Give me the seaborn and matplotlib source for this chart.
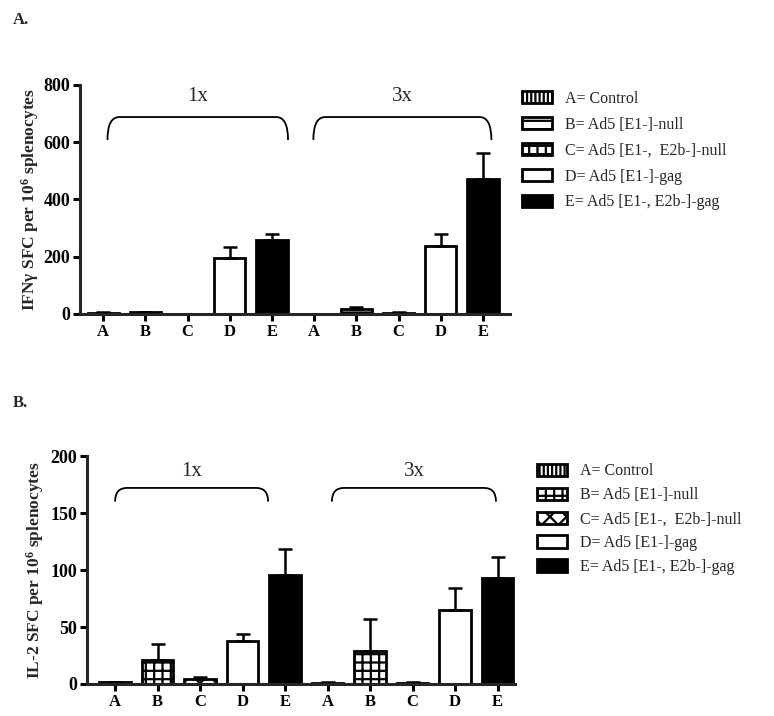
import numpy as np
import pandas as pd
import matplotlib
matplotlib.use("Agg")
import matplotlib.pyplot as plt
from matplotlib.path import Path
from matplotlib.patches import PathPatch, Patch
import seaborn as sns

# ---------------- data ----------------
letters = ["A", "B", "C", "D", "E"]
doses = ["1x", "3x"]
legend_labels_top = ["A= Control", "B= Ad5 [E1-]-null", "C= Ad5 [E1-,  E2b-]-null",
                     "D= Ad5 [E1-]-gag", "E= Ad5 [E1-, E2b-]-gag"]
legend_labels_bot = ["A= Control", "B= Ad5 [E1-]-null", "C= Ad5 [E1-,  E2b-]-null",
                     "D= Ad5 [E1-]-gag", "E= Ad5 [E1-, E2b-]-gag"]

ifng_mean = [5, 6, 0, 195, 257, 0, 18, 3, 238, 470]
ifng_upper = [6, 8, 0, 234, 278, 0, 25, 6, 278, 563]
il2_mean = [1.5, 21, 4, 38, 96, 1, 29, 1, 65, 93]
il2_upper = [2, 35, 6.5, 44, 118, 1.5, 57, 1.5, 84, 111]

ifng_ylabel = "IFN\u03b3 SFC per 10$^{6}$ splenocytes"
il2_ylabel = "IL-2 SFC per 10$^{6}$ splenocytes"

sns.set_theme(style="ticks")
plt.rcParams["font.family"] = ["Liberation Serif", "DejaVu Serif"]
plt.rcParams["mathtext.fontset"] = "custom"
plt.rcParams["mathtext.rm"] = "Liberation Serif"
plt.rcParams["mathtext.bf"] = "Liberation Serif:bold"
plt.rcParams["mathtext.default"] = "bf"
plt.rcParams["hatch.linewidth"] = 1.6

fig = plt.figure(figsize=(7.74, 7.16), dpi=100)

face = {"A": "white", "B": "white", "C": "white", "D": "white", "E": "black"}
hatch_top = {"A": "||||", "B": "--", "C": "++", "D": "", "E": ""}
hatch_bot = {"A": "||||", "B": "++", "C": "xx", "D": "", "E": ""}


def panel(rect, mean, upper, ymax, yticks, ylabel, hatches, brackets, legend_labels,
          leg_anchor, lspace, lpad):
    ax = fig.add_axes(rect)
    cats = [f"{l}{d}" for d in doses for l in letters]
    df = pd.DataFrame({"cat": cats, "val": mean, "up": upper})
    sns.barplot(data=df, x="cat", y="val", order=cats, color="white",
                edgecolor="black", linewidth=2.0, width=0.74, errorbar=None,
                saturation=1, ax=ax)
    for p, c in zip(ax.patches, cats):
        l = c[0]
        p.set_facecolor(face[l])
        p.set_hatch(hatches[l])
        p.set_edgecolor("black")
    x = np.arange(len(cats))
    lo = np.zeros(len(cats))
    hi = np.array(upper) - np.array(mean)
    ax.errorbar(x, mean, yerr=[lo, hi], fmt="none", ecolor="black",
                elinewidth=1.8, capsize=5, capthick=1.8, zorder=1)
    ax.set_ylim(0, ymax)
    ax.set_yticks(yticks)
    ax.set_yticklabels([str(t) for t in yticks], fontweight="bold", fontsize=13)
    ax.set_xticks(x)
    ax.set_xticklabels([c[0] for c in cats], fontweight="bold", fontsize=12)
    ax.set_xlabel("")
    ax.set_ylabel(ylabel, fontweight="bold", fontsize=12.5, labelpad=lpad)
    sns.despine(ax=ax)
    for s in ["left", "bottom"]:
        ax.spines[s].set_linewidth(2.2)
    ax.tick_params(axis="both", direction="out", length=5, width=2.2, pad=2, colors="black")
    ax.set_facecolor("white")
    # brackets
    for (x0, x1, yb, yt, lab, ylab) in brackets:
        dx = 0.28
        dy = (yt - yb)
        verts = [(x0, yb), (x0, yb + dy), (x0 + dx, yt), (x1 - dx, yt),
                 (x1, yt), (x1, yb)]
        codes = [Path.MOVETO, Path.CURVE3, Path.CURVE3, Path.LINETO, Path.CURVE3, Path.CURVE3]
        pp = PathPatch(Path(verts, codes), fill=False, lw=1.3, edgecolor="black", clip_on=False)
        ax.add_patch(pp)
        ax.text((x0 + x1) / 2, ylab, lab, ha="center", va="center", fontsize=15)
    handles = [Patch(facecolor=face[l], edgecolor="black", hatch=hatches[l], linewidth=2.0)
               for l in letters]
    fig.legend(handles, legend_labels, loc="upper left", bbox_to_anchor=leg_anchor,
               frameon=False, fontsize=11.5, handlelength=1.9, handleheight=0.8,
               labelspacing=lspace, handletextpad=0.8, borderaxespad=0)
    return ax


ax1 = panel([0.1034, 0.5615, 0.556, 0.3198], ifng_mean, ifng_upper, 800,
            [0, 200, 400, 600, 800], ifng_ylabel, hatch_top,
            [(0.1, 4.38, 608, 688, "1x", 760), (4.98, 9.2, 608, 688, "3x", 760)],
            legend_labels_top, (0.666, 0.882), 0.62, 2)
ax1.set_xlim(-0.55, 9.65)

ax2 = panel([0.1124, 0.0447, 0.5526, 0.3184], il2_mean, il2_upper, 200,
            [0, 50, 100, 150, 200], il2_ylabel, hatch_bot,
            [(0.0, 3.6, 160, 172, "1x", 186), (5.1, 8.96, 160, 172, "3x", 186)],
            legend_labels_bot, (0.685, 0.362), 0.5, 3)
ax2.set_xlim(-0.66, 9.4)

fig.text(0.016, 0.972, "A.", fontweight="bold", fontsize=12, va="center")
fig.text(0.016, 0.437, "B.", fontweight="bold", fontsize=12, va="center")

fig.savefig("out.png", dpi=100, facecolor="white")
